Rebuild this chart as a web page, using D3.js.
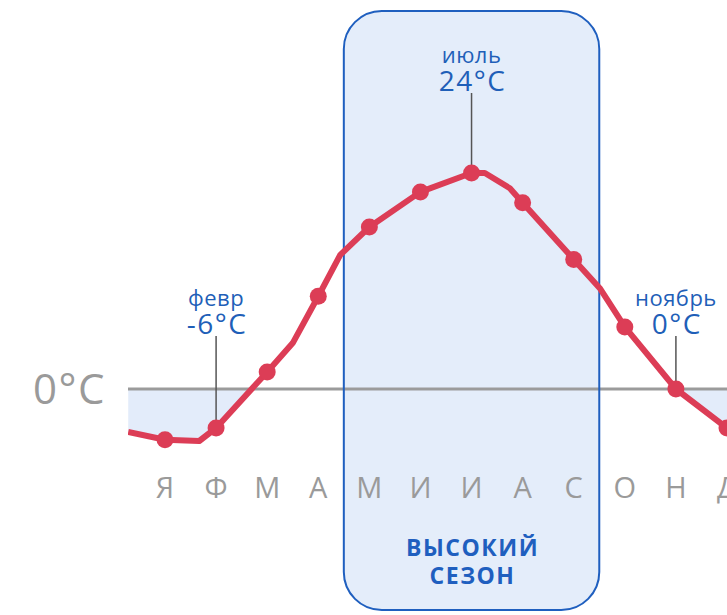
<!DOCTYPE html>
<html>
<head>
<meta charset="utf-8">
<script src="https://cdn.jsdelivr.net/npm/d3@7"></script>
<style>
  body { margin: 0; background: #fff; }
  text { font-family: "Open Sans", "Noto Sans", sans-serif; }
</style>
</head>
<body>
<div id="vis"></div>
<script>

// monthly temperatures, °C
var months = ["Я", "Ф", "М", "А", "М", "И", "И", "А", "С", "О", "Н", "Д"];
var monthTemps = [-7.8, -6, 1.9, 10.3, 18, 21.9, 24, 20.7, 14.4, 6.9, 0, -6];

// extra line vertices between the monthly points (month index, °C)
var bendPos = [-0.72, 0.67, 2.5, 3.43, 6.26, 6.75, 8.51, 11.7];
var bendTemps = [-6.6, -8, 5.1, 14.9, 24, 22.3, 11.2, -8.2];

// high season: from middle of April to middle of September
var season = [3.5, 8.5];
var seasonText = ["ВЫСОКИЙ", "СЕЗОН"];

// callouts
var noteMonths = [1, 6, 10];
var noteNames = ["февр", "июль", "ноябрь"];
var noteTemps = ["-6°C", "24°C", "0°C"];

var width = 727;
var height = 615;

var svg = d3.select("#vis")
  .append("svg")
    .attr("width", width)
    .attr("height", height);

var x = d3.scaleLinear()
    .domain([0, 11])
    .range([165, 727]);

var y = d3.scaleLinear()
    .domain([-6, 0, 24])
    .range([428, 389, 173]);

var left = 128;

var pts = monthTemps.map(function(d, i) { return {m: i, t: d}; });
var linePts = pts.concat(bendPos.map(function(d, i) { return {m: d, t: bendTemps[i]}; }))
  .sort(function(a, b) { return a.m - b.m; });

var defs = svg.append("defs");
defs.append("clipPath").attr("id", "clip-plot")
  .append("rect")
    .attr("x", left).attr("y", 0)
    .attr("width", width - left).attr("height", height);
defs.append("clipPath").attr("id", "clip-below")
  .append("rect")
    .attr("x", left).attr("y", y(0))
    .attr("width", width - left).attr("height", height - y(0));

// season box fill
var bx0 = x(season[0]), bx1 = x(season[1]);
svg.append("rect")
    .attr("x", bx0).attr("y", 11)
    .attr("width", bx1 - bx0).attr("height", 599)
    .attr("rx", 38).attr("ry", 38)
    .style("fill", "#e4edfa");

// area below zero
var area = d3.area()
    .x(function(d) { return x(d.m); })
    .y0(y(0))
    .y1(function(d) { return y(d.t); });

svg.append("path")
    .datum(linePts)
    .attr("clip-path", "url(#clip-below)")
    .attr("d", area)
    .style("fill", "#e3ecfa");

// zero line
svg.append("line")
    .attr("x1", left).attr("x2", width)
    .attr("y1", y(0)).attr("y2", y(0))
    .style("stroke", "#9b9b9b")
    .style("stroke-width", 3);

svg.append("text")
    .attr("x", 106).attr("y", y(0))
    .attr("dy", "0.36em")
    .attr("text-anchor", "end")
    .style("fill", "#9a9a9a")
    .style("font-size", "42px")
    .style("letter-spacing", "1.5px")
    .text("0°C");

// season box border
svg.append("rect")
    .attr("x", bx0).attr("y", 11)
    .attr("width", bx1 - bx0).attr("height", 599)
    .attr("rx", 38).attr("ry", 38)
    .style("fill", "none")
    .style("stroke", "#1f5fbf")
    .style("stroke-width", 2);

svg.selectAll(".season")
    .data(seasonText)
  .enter().append("text")
    .attr("class", "season")
    .attr("x", (bx0 + bx1) / 2 + 1)
    .attr("y", function(d, i) { return 556 + i * 28; })
    .attr("text-anchor", "middle")
    .style("fill", "#1f5fbf")
    .style("font-size", "23px")
    .style("font-weight", "bold")
    .style("letter-spacing", "1.5px")
    .text(function(d) { return d; });

// month letters
svg.selectAll(".month")
    .data(months)
  .enter().append("text")
    .attr("class", "month")
    .attr("x", function(d, i) { return x(i); })
    .attr("y", 498)
    .attr("text-anchor", "middle")
    .style("fill", "#9a9a9a")
    .style("font-size", "29px")
    .text(function(d) { return d; });

// callouts
var noteTop = [306, 63, 306];
noteMonths.forEach(function(m, i) {
  var base = noteTop[i];
  svg.append("line")
      .attr("x1", x(m)).attr("x2", x(m))
      .attr("y1", base + 30).attr("y2", y(monthTemps[m]))
      .style("stroke", "#555")
      .style("stroke-width", 1.5);
  svg.append("text")
      .attr("x", x(m)).attr("y", base)
      .attr("text-anchor", "middle")
      .style("fill", "#1f5fb8")
      .style("font-size", "22px")
      .style("letter-spacing", "0.5px")
      .text(noteNames[i]);
  svg.append("text")
      .attr("x", x(m) + 1).attr("y", base + 28)
      .attr("text-anchor", "middle")
      .style("fill", "#1f5fb8")
      .style("font-size", "28px")
      .style("letter-spacing", "1.5px")
      .text(noteTemps[i]);
});

// temperature line
var line = d3.line()
    .x(function(d) { return x(d.m); })
    .y(function(d) { return y(d.t); });

var plot = svg.append("g").attr("clip-path", "url(#clip-plot)");

plot.append("path")
    .datum(linePts)
    .attr("d", line)
    .style("fill", "none")
    .style("stroke", "#dc3d56")
    .style("stroke-width", 6)
    .style("stroke-linejoin", "round");

plot.selectAll(".dot")
    .data(pts)
  .enter().append("circle")
    .attr("class", "dot")
    .attr("cx", function(d) { return x(d.m); })
    .attr("cy", function(d) { return y(d.t); })
    .attr("r", 8.5)
    .style("fill", "#dc3d56");

</script>
</body>
</html>
